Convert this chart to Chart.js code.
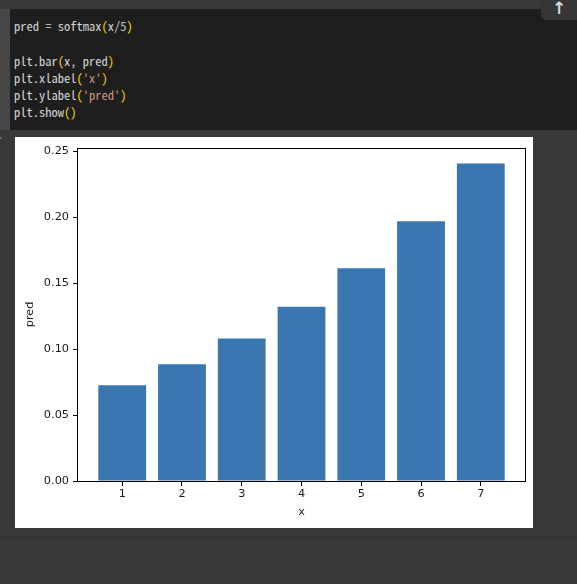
<!DOCTYPE html>
<html>
<head>
<meta charset="utf-8">
<script src="https://cdn.jsdelivr.net/npm/chart.js@4"></script>
<style>
  html, body { margin: 0; padding: 0; }
  body { width: 577px; height: 584px; background: #383838; position: relative; overflow: hidden; }
  #gutter { position: absolute; left: 0; top: 9px; width: 10px; height: 121px; background: #474747; }
  #code { position: absolute; left: 10px; top: 9px; width: 567px; height: 121px; background: #1e1e1e; }
  #code pre { margin: 0; position: absolute; left: 4px; top: 8px; font-family: "Noto Sans Mono CJK KR", "DejaVu Sans Mono", monospace; font-size: 12.5px; line-height: 17.3px; color: #d4d4d4; }
  .p { color: #ffd700; }
  .s { color: #ce9178; }
  .n { color: #b5cea8; }
  #btn { position: absolute; left: 541px; top: 0; width: 36px; height: 20px; background: #363636; border-bottom-left-radius: 6px; color: #d8d8d8; font-family: "DejaVu Sans", sans-serif; font-weight: bold; font-size: 17px; line-height: 16px; text-align: center; }
  #chev { position: absolute; left: -2px; top: 136px; color: #aaa; font-family: "DejaVu Sans", sans-serif; font-size: 9px; }
  #img { position: absolute; left: 15px; top: 137px; width: 518px; height: 391px; background: #ffffff; }
  #sep { position: absolute; left: 0; top: 537px; width: 577px; height: 1px; background: #313131; }
</style>
</head>
<body>
<div id="gutter"></div>
<div id="code"><pre>pred = softmax<span class="p">(</span>x/<span class="n">5</span><span class="p">)</span>

plt.bar<span class="p">(</span>x, pred<span class="p">)</span>
plt.xlabel<span class="p">(</span><span class="s">'x'</span><span class="p">)</span>
plt.ylabel<span class="p">(</span><span class="s">'pred'</span><span class="p">)</span>
plt.show<span class="p">()</span></pre></div>
<div id="btn">↑</div>
<div id="chev">˅</div>
<div id="img"><canvas id="c" width="518" height="391"></canvas></div>
<div id="sep"></div>
<script>
const categories = [1, 2, 3, 4, 5, 6, 7];
const pred = [0.0725, 0.0885, 0.1081, 0.1320, 0.1613, 0.1970, 0.2406];
const yTicks = [0, 0.05, 0.10, 0.15, 0.20, 0.25];

const frame = {
  id: 'frame',
  afterDraw(chart) {
    const a = chart.chartArea, ctx = chart.ctx;
    ctx.save();
    ctx.strokeStyle = '#000';
    ctx.lineWidth = 1;
    ctx.strokeRect(Math.round(a.left) - 0.5, Math.round(a.top) + 0.5, Math.round(a.right - a.left) + 1, Math.round(a.bottom - a.top));
    ctx.restore();
  }
};

const font = { family: 'DejaVu Sans', size: 11.3 };

new Chart(document.getElementById('c'), {
  type: 'bar',
  data: {
    datasets: [{
      data: categories.map((c, i) => ({ x: c, y: pred[i] })),
      backgroundColor: '#3a76b0',
      borderWidth: 0,
      categoryPercentage: 1.0,
      barPercentage: 0.8
    }]
  },
  options: {
    responsive: false,
    animation: false,
    layout: { padding: { top: 10, right: 8, left: 0, bottom: 0 } },
    plugins: { legend: { display: false }, tooltip: { enabled: false } },
    scales: {
      x: {
        type: 'linear',
        min: 0.26,
        max: 7.74,
        offset: false,
        grid: { offset: false, drawOnChartArea: false, drawTicks: true, tickLength: 5, color: '#000' },
        border: { display: false },
        ticks: { stepSize: 1, includeBounds: false, autoSkip: false, maxRotation: 0, padding: 1.5, color: '#1a1a1a', font, callback: v => String(v) },
        title: { display: true, text: 'x', color: '#1a1a1a', font, padding: { top: 0, bottom: 9.5 } },
        afterFit(s) { s.height = 47; }
      },
      y: {
        type: 'linear',
        min: 0,
        max: 0.2526,
        grid: { drawOnChartArea: false, drawTicks: true, tickLength: 5, color: '#000' },
        border: { display: false },
        afterBuildTicks(s) { s.ticks = yTicks.map(v => ({ value: v })); },
        ticks: { padding: 4, color: '#1a1a1a', font, callback: v => Number(v).toFixed(2) },
        title: { display: true, text: 'pred', color: '#1a1a1a', font, padding: { top: 8.3, bottom: 0 } },
        afterFit(s) { s.width = 63; }
      }
    }
  },
  plugins: [frame]
});
</script>
</body>
</html>
